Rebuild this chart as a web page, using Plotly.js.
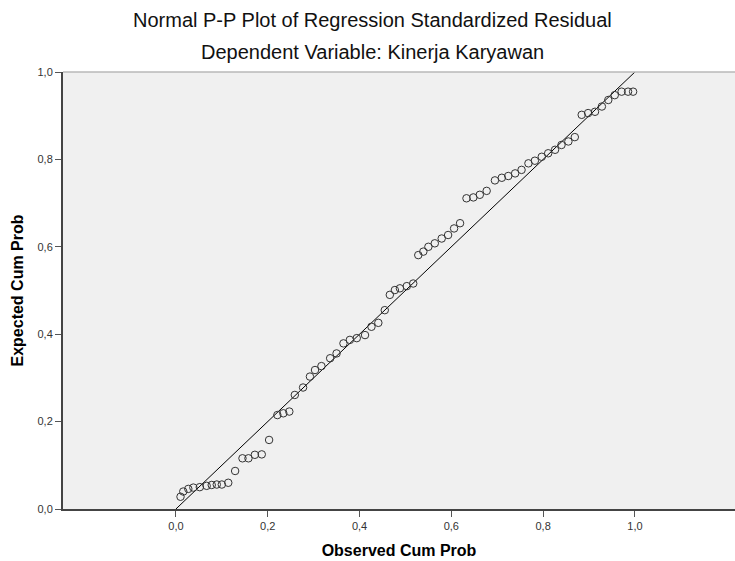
<!DOCTYPE html>
<html>
<head>
<meta charset="utf-8">
<script src="https://cdn.plot.ly/plotly-3.0.1.min.js"></script>
<style>
html,body{margin:0;padding:0;background:#fff;overflow:hidden;}
#chart{width:735px;height:561px;}
</style>
</head>
<body>
<div id="chart"></div>
<script>
// Observed cumulative probability (x) and expected cumulative probability (y)
const observedCumProb = [
  0.010,0.016,0.027,0.038,0.052,0.067,0.078,0.089,0.100,0.114,
  0.129,0.145,0.158,0.172,0.187,0.203,0.221,0.234,0.247,
  0.259,0.277,0.292,0.303,0.317,0.336,0.350,0.365,0.379,0.394,
  0.412,0.426,0.441,0.455,0.466,0.477,0.488,0.503,0.517,
  0.528,0.539,0.550,0.564,0.579,0.593,0.606,0.619,0.633,0.648,
  0.662,0.677,0.695,0.710,0.724,0.739,0.753,0.768,0.782,0.797,
  0.811,0.826,0.840,0.855,0.869,
  0.884,0.898,0.913,0.928,0.942,0.956,0.971,0.985,0.996
];
const expectedCumProb = [
  0.028,0.040,0.046,0.049,0.050,0.053,0.055,0.056,0.056,0.060,
  0.087,0.116,0.116,0.124,0.125,0.158,0.215,0.219,0.223,
  0.261,0.278,0.303,0.318,0.327,0.345,0.356,0.379,0.387,0.391,
  0.398,0.417,0.426,0.455,0.490,0.501,0.505,0.510,0.516,
  0.581,0.589,0.600,0.608,0.619,0.627,0.642,0.654,0.711,0.713,
  0.719,0.728,0.752,0.758,0.762,0.768,0.776,0.791,0.797,0.806,
  0.814,0.822,0.833,0.841,0.851,
  0.902,0.906,0.909,0.921,0.936,0.947,0.955,0.955,0.955
];
const refLineX = [0, 1];
const refLineY = [0, 1];
const tickVals = [0, 0.2, 0.4, 0.6, 0.8, 1.0];
const xTickText = ["0,0","0,2","0,4","0,6","0,8","1,0"];
const yTickText = ["0,0","0,2","0,4","0,6","0,8","1,0"];
const chartTitle = "Normal P-P Plot of Regression Standardized Residual";
const chartSubtitle = "Dependent Variable: Kinerja Karyawan";
const xTitle = "Observed Cum Prob";
const yTitle = "Expected Cum Prob";

const traces = [
  {
    x: refLineX, y: refLineY, mode: 'lines', type: 'scatter',
    line: {color: '#000', width: 1}, hoverinfo: 'skip', showlegend: false
  },
  {
    x: observedCumProb, y: expectedCumProb, mode: 'markers', type: 'scatter',
    marker: {symbol: 'circle-open', size: 7.5, color: '#333', line: {width: 1, color: '#333'}},
    showlegend: false
  }
];

const layout = {
  width: 735, height: 561,
  margin: {l: 63, r: 0, t: 72, b: 52},
  paper_bgcolor: '#ffffff',
  plot_bgcolor: '#f0f0f0',
  font: {family: 'Liberation Sans, Arial, sans-serif', color: '#000'},
  xaxis: {
    range: [-0.246, 1.218], tickvals: tickVals, ticktext: xTickText,
    showgrid: false, zeroline: false, showline: true, linecolor: '#444', linewidth: 2,
    ticks: 'outside', ticklen: 6, tickcolor: '#555', tickwidth: 1,
    tickfont: {size: 11, color: '#333'},
    title: {text: xTitle, font: {size: 16, color: '#000', weight: 'bold'}, standoff: 14}
  },
  yaxis: {
    range: [0, 1], tickvals: tickVals, ticktext: yTickText,
    showgrid: false, zeroline: false, showline: true, linecolor: '#444', linewidth: 2,
    ticks: 'outside', ticklen: 6, tickcolor: '#555', tickwidth: 1,
    tickfont: {size: 11, color: '#333'},
    title: {text: yTitle, font: {size: 16, color: '#000', weight: 'bold'}, standoff: 10}
  },
  shapes: [
    {type: 'line', xref: 'paper', yref: 'paper', x0: 0, x1: 1, y0: 1, y1: 1,
     line: {color: '#b8b8b8', width: 1.5}}
  ],
  annotations: [
    {text: chartTitle, xref: 'paper', yref: 'paper', x: 0.461, y: 1.119,
     xanchor: 'center', yanchor: 'middle', showarrow: false,
     font: {size: 20, color: '#111'}},
    {text: chartSubtitle, xref: 'paper', yref: 'paper', x: 0.461, y: 1.046,
     xanchor: 'center', yanchor: 'middle', showarrow: false,
     font: {size: 20, color: '#111'}}
  ]
};

Plotly.newPlot('chart', traces, layout, {displayModeBar: false, staticPlot: true});
</script>
</body>
</html>
